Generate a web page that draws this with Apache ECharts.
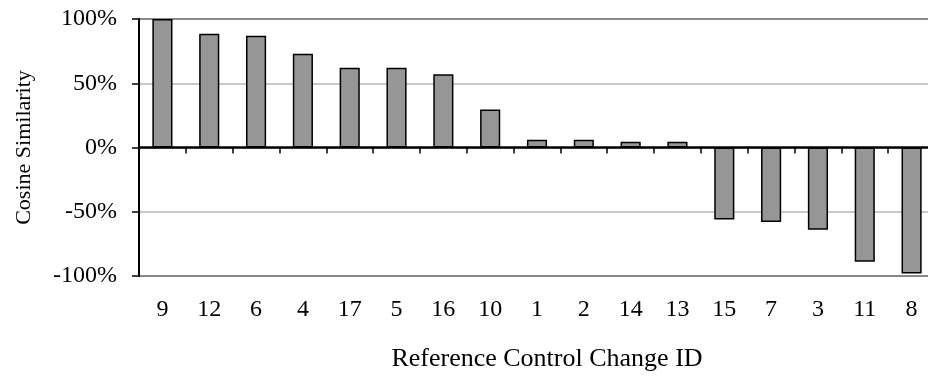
<!DOCTYPE html>
<html>
<head>
<meta charset="utf-8">
<script src="https://cdn.jsdelivr.net/npm/echarts@6/dist/echarts.min.js"></script>
<style>
  html, body { margin: 0; padding: 0; background: #fff; }
  #chart { width: 928px; height: 377px; }
</style>
</head>
<body>
<div id="chart"></div>
<script>
// Reference control change IDs, sorted by similarity
const changeIds = ['9', '12', '6', '4', '17', '5', '16', '10', '1', '2', '14', '13', '15', '7', '3', '11', '8'];
// Cosine similarity per change, in percent
const similarity = [100, 88.5, 87, 73, 62, 62, 57, 29.5, 6, 6, 4.5, 4.5, -56, -58, -64, -89, -98];
const yTicks = [-100, -50, 0, 50, 100];

const FONT = 'Liberation Serif';
const chart = echarts.init(document.getElementById('chart'), null, { renderer: 'canvas' });

chart.setOption({
  animation: false,
  backgroundColor: '#ffffff',
  // plot area runs slightly past the right edge of the canvas
  grid: { left: 139, top: 19, width: 796, height: 257, containLabel: false, outerBoundsMode: 'none' },
  xAxis: [
    {
      // zero line with ticks at category boundaries
      type: 'category',
      data: changeIds,
      position: 'bottom',
      axisLine: { onZero: true, lineStyle: { color: '#000', width: 2.5 } },
      axisTick: { show: true, interval: 0, length: 6, lineStyle: { color: '#000', width: 1.5 } },
      axisLabel: { show: false },
      splitLine: { show: false }
    },
    {
      // category labels and title along the bottom
      type: 'category',
      data: changeIds,
      position: 'bottom',
      axisLine: { show: false, onZero: false },
      axisTick: { show: false },
      axisLabel: { show: true, interval: 0, margin: 22, color: '#000', fontFamily: FONT, fontSize: 24 },
      name: 'Reference Control Change ID',
      nameLocation: 'middle',
      nameGap: 70,
      nameTextStyle: { color: '#000', fontFamily: FONT, fontSize: 26, padding: [0, 0, 0, 20] }
    }
  ],
  yAxis: {
    type: 'value',
    min: yTicks[0],
    max: yTicks[yTicks.length - 1],
    interval: 50,
    axisLine: { show: true, lineStyle: { color: '#000', width: 2 } },
    axisTick: { show: true, length: 7, lineStyle: { color: '#000', width: 1.5 } },
    axisLabel: { color: '#000', fontFamily: FONT, fontSize: 24, margin: 22, formatter: v => v + '%' },
    splitLine: { show: true, lineStyle: { color: ['#888888', '#c8c8c8', '#c8c8c8', '#c8c8c8', '#888888'], width: 2 } },
    name: 'Cosine Similarity',
    nameLocation: 'middle',
    nameGap: 104,
    nameRotate: 90,
    nameTextStyle: { color: '#000', fontFamily: FONT, fontSize: 22 }
  },
  series: [{
    type: 'bar',
    xAxisIndex: 0,
    data: similarity,
    barWidth: '43%',
    itemStyle: { color: '#969696', borderColor: '#000', borderWidth: 1.5 }
  }]
});
</script>
</body>
</html>
